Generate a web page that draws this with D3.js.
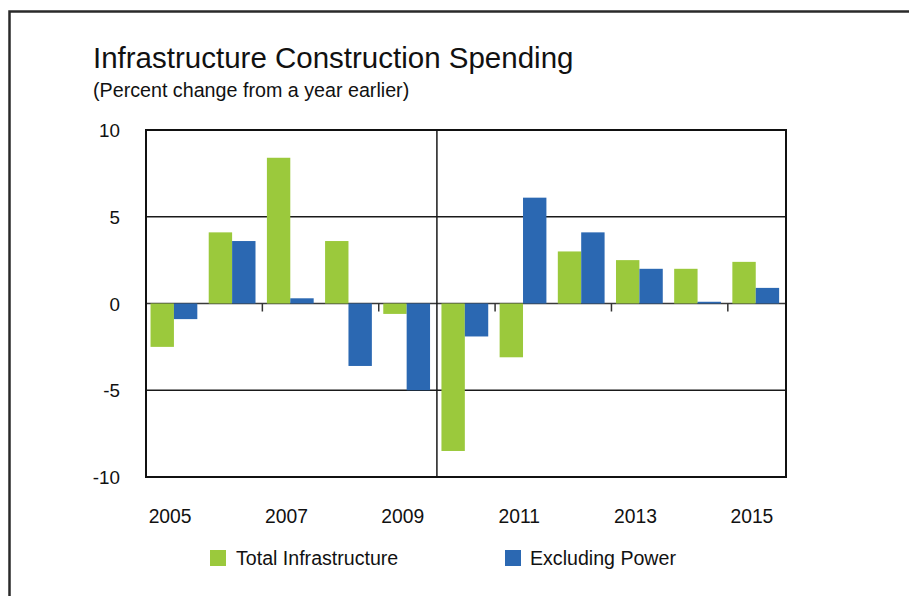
<!DOCTYPE html>
<html>
<head>
<meta charset="utf-8">
<script src="https://cdn.jsdelivr.net/npm/d3@7"></script>
<style>
  html, body { margin: 0; padding: 0; background: #fff; }
  svg { display: block; font-family: "Liberation Sans", Arial, Helvetica, sans-serif; }
</style>
</head>
<body>
<svg id="chart" width="909" height="596"></svg>
<script>
// Annual percent change in infrastructure construction spending
const years = ["2005", "2006", "2007", "2008", "2009", "2010", "2011", "2012", "2013", "2014", "2015"];
const totalInfrastructure = [-2.5, 4.1, 8.4, 3.6, -0.6, -8.5, -3.1, 3.0, 2.5, 2.0, 2.4];
const excludingPower = [-0.9, 3.6, 0.3, -3.6, -5.0, -1.9, 6.1, 4.1, 2.0, 0.1, 0.9];
const seriesNames = ["Total Infrastructure", "Excluding Power"];
const seriesColors = ["#9bc93c", "#2b68b2"];
const yTicks = [10, 5, 0, -5, -10];
const yearLabels = ["2005", "2007", "2009", "2011", "2013", "2015"];
const tickBoundaries = ["2007", "2009", "2011", "2013", "2015"];
const dividerYear = "2010";

const svg = d3.select("#chart");

// outer panel border (top and left edges visible)
svg.append("path")
  .attr("d", "M9.5,909 V11.5 H909")
  .attr("fill", "none")
  .attr("stroke", "#2a2a2a")
  .attr("stroke-width", 2.5);

// titles
svg.append("text")
  .attr("x", 93).attr("y", 67.5)
  .attr("font-size", 29.5)
  .attr("fill", "#111")
  .text("Infrastructure Construction Spending");
svg.append("text")
  .attr("x", 93).attr("y", 97)
  .attr("font-size", 19.7)
  .attr("fill", "#111")
  .text("(Percent change from a year earlier)");

const plot = { left: 146, right: 786, top: 130, bottom: 477 };

const x0 = d3.scaleBand().domain(years).range([plot.left, plot.right]).padding(0);
const bw = x0.bandwidth();
const x1 = d3.scaleBand().domain(seriesNames).range([bw * 0.078, bw * 0.882]).padding(0);
const y = d3.scaleLinear().domain([-10, 10]).range([plot.bottom, plot.top]);

// horizontal gridlines
svg.append("g")
  .selectAll("line")
  .data(yTicks.filter(t => t !== 10 && t !== -10))
  .join("line")
  .attr("x1", plot.left).attr("x2", plot.right)
  .attr("y1", d => y(d)).attr("y2", d => y(d))
  .attr("stroke", d => d === 0 ? "#3a3a3a" : "#1a1a1a")
  .attr("stroke-width", 1.5);

// vertical divider
svg.append("line")
  .attr("x1", x0(dividerYear)).attr("x2", x0(dividerYear))
  .attr("y1", plot.top).attr("y2", plot.bottom)
  .attr("stroke", "#1a1a1a").attr("stroke-width", 1.5);

// small ticks under the zero line
svg.append("g")
  .selectAll("line")
  .data(tickBoundaries)
  .join("line")
  .attr("x1", d => x0(d)).attr("x2", d => x0(d))
  .attr("y1", y(0)).attr("y2", y(0) + 8)
  .attr("stroke", "#333").attr("stroke-width", 1.5);

// bars
const rows = years.map((yr, i) => ({
  year: yr,
  values: [totalInfrastructure[i], excludingPower[i]]
}));

const groups = svg.append("g")
  .selectAll("g")
  .data(rows)
  .join("g")
  .attr("transform", d => `translate(${x0(d.year)},0)`);

groups.selectAll("rect")
  .data(d => d.values.map((v, j) => ({ key: seriesNames[j], value: v, color: seriesColors[j] })))
  .join("rect")
  .attr("x", d => x1(d.key))
  .attr("width", x1.bandwidth())
  .attr("y", d => y(Math.max(0, d.value)))
  .attr("height", d => Math.abs(y(d.value) - y(0)))
  .attr("fill", d => d.color);

// plot frame
svg.append("rect")
  .attr("x", plot.left).attr("y", plot.top)
  .attr("width", plot.right - plot.left)
  .attr("height", plot.bottom - plot.top)
  .attr("fill", "none")
  .attr("stroke", "#111")
  .attr("stroke-width", 2);

// y axis labels
svg.append("g")
  .selectAll("text")
  .data(yTicks)
  .join("text")
  .attr("x", 120)
  .attr("y", d => y(d) + 7)
  .attr("text-anchor", "end")
  .attr("font-size", 18.8)
  .attr("fill", "#111")
  .text(d => d);

// x axis labels
svg.append("g")
  .selectAll("text")
  .data(yearLabels)
  .join("text")
  .attr("x", d => x0(d) + bw / 2 - 5)
  .attr("y", 523)
  .attr("text-anchor", "middle")
  .attr("font-size", 19.3)
  .attr("fill", "#111")
  .text(d => d);

// legend
const legendX = [210, 505];
const legend = svg.append("g")
  .selectAll("g")
  .data(seriesNames)
  .join("g")
  .attr("transform", (d, i) => `translate(${legendX[i]},550)`);
legend.append("rect")
  .attr("width", 16).attr("height", 16)
  .attr("fill", (d, i) => seriesColors[i]);
legend.append("text")
  .attr("x", (d, i) => i === 0 ? 26 : 25)
  .attr("y", 15)
  .attr("font-size", 19.6)
  .attr("fill", "#111")
  .text(d => d);
</script>
</body>
</html>
